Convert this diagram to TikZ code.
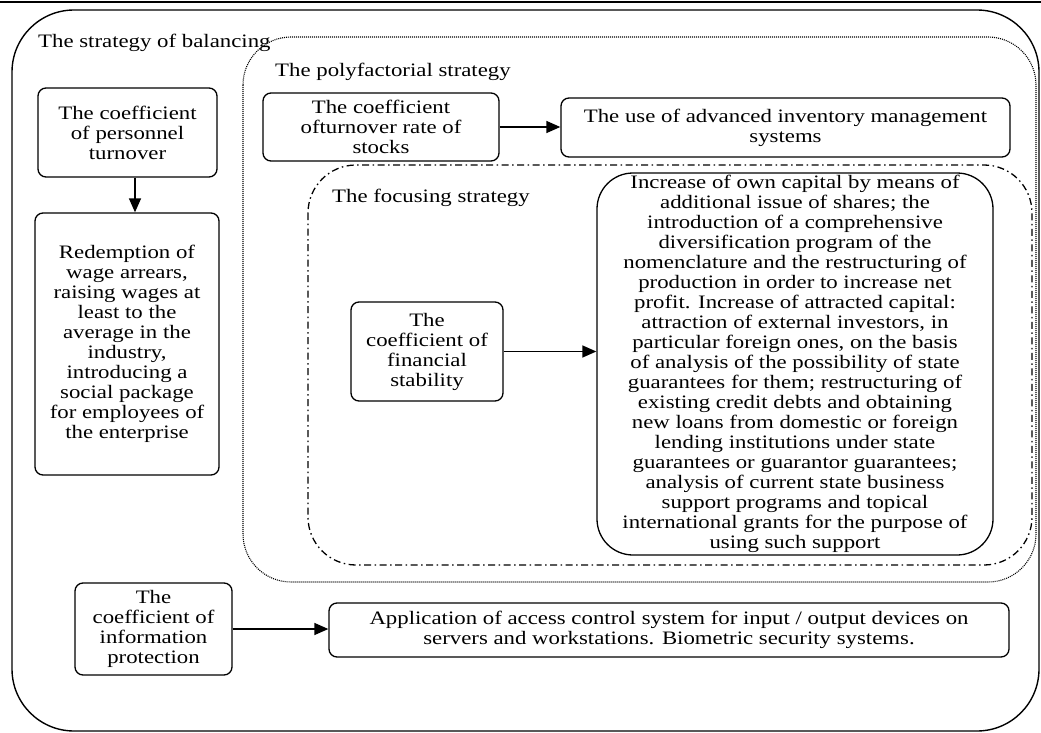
\documentclass[tikz,border=0pt]{standalone}
\usepackage{fontspec}
\setmainfont{Liberation Serif}[FakeStretch=1.2]
\usetikzlibrary{arrows.meta,calc}
\begin{document}
\begin{tikzpicture}[x=1pt,y=-1pt,
  txt/.style={font=\fontsize{19}{20}\selectfont, inner sep=0pt},
  box/.style={txt, draw, line width=1.3pt, rounded corners=8pt, align=center, minimum width=#1},
  arr/.style={line width=1.4pt, -{Triangle[length=14pt,width=12pt]}},
  lbl/.style={txt, anchor=base west},
  dotbox/.style={line width=1.1pt, dash pattern=on 1pt off 1pt, rounded corners=48pt},
  dashdotbox/.style={line width=1.3pt, dash pattern=on 7pt off 3.5pt on 1.5pt off 3.5pt, rounded corners=48pt}
]
\useasboundingbox (0,0) rectangle (1041,733);
\path[fill=white] (0,0) rectangle (1041,733);
% top rule
\draw[line width=1.5pt] (0,2) -- (1041,2);
% outer frame
\draw[line width=1.4pt, rounded corners=62pt] (12,10) rectangle (1039,731);
% polyfactorial frame (dotted)
\draw[dotbox] (243,37) rectangle (1036,582);
% focusing frame (dash-dot)
\draw[dashdotbox] (308,165) rectangle (1032,565);

% labels
\node[lbl] (lbal) at (38,48) {The strategy of balancing};
\node[lbl] (lpoly) at (275,77) {The polyfactorial strategy};
\node[lbl] (lfoc) at (332,202) {The focusing strategy};

% boxes
\node[box=179pt, minimum height=89pt] (b1) at (127.5,132.5) {The coefficient\\of personnel\\turnover};
\node[box=184pt, minimum height=262pt] (b2) at (127,344) {Redemption of\\wage arrears,\\raising wages at\\least to the\\average in the\\industry,\\introducing a\\social package\\for employees of\\the enterprise};
\node[box=236pt, minimum height=68pt] (b3) at (381,127) {The coefficient\\ofturnover rate of\\stocks};
\node[box=449pt, minimum height=59pt] (b4) at (785.5,127.5) {The use of advanced inventory management\\systems};
\node[box=152pt, minimum height=99pt] (b5) at (427,351.5) {The\\coefficient of\\financial\\stability};
\node[box=396pt, minimum height=382pt, rounded corners=36pt] (b6) at (795,364) {Increase of own capital by means of\\additional issue of shares; the\\introduction of a comprehensive\\diversification program of the\\nomenclature and the restructuring of\\production in order to increase net\\profit. Increase of attracted capital:\\attraction of external investors, in\\particular foreign ones, on the basis\\of analysis of the possibility of state\\guarantees for them; restructuring of\\existing credit debts and obtaining\\new loans from domestic or foreign\\lending institutions under state\\guarantees or guarantor guarantees;\\analysis of current state business\\support programs and topical\\international grants for the purpose of\\using such support};
\node[box=157pt, minimum height=92pt] (b7) at (153.5,629) {The\\coefficient of\\information\\protection};
\node[box=680pt, minimum height=54pt] (b8) at (669,630) {Application of access control system for input / output devices on\\servers and workstations. Biometric security systems.};

% arrows
\draw[arr] ($(b1.south)+(7.5,0)$) -- ($(b2.north)+(8,0)$);
\draw[arr] (b3.east) -- (b3.east -| b4.west);
\draw[arr] (b5.east) -- (b5.east -| b6.west);
\draw[arr] (b7.east) -- (b7.east -| b8.west);
\end{tikzpicture}
\end{document}
